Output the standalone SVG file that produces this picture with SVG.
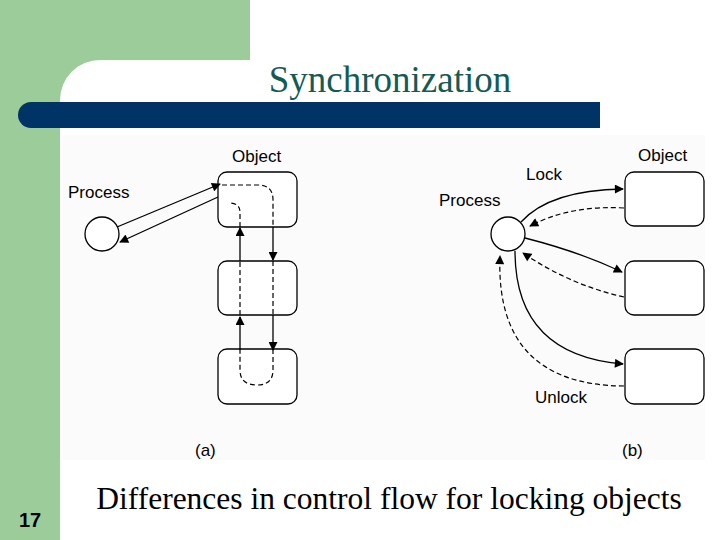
<svg xmlns="http://www.w3.org/2000/svg" width="720" height="540" viewBox="0 0 720 540">
<defs>
<marker id="ah" viewBox="0 0 10 10" refX="9" refY="5" markerWidth="10" markerHeight="9" markerUnits="userSpaceOnUse" orient="auto"><path d="M0,0 L10,5 L0,10 z" fill="#000"/></marker>
<style>
.s{fill:none;stroke:#000;stroke-width:1.3}
.d{fill:none;stroke:#000;stroke-width:1.2;stroke-dasharray:5,3}
.a{marker-end:url(#ah)}
.box{fill:#fff;stroke:#000;stroke-width:1.3}
.t{font-family:"Liberation Sans",Arial,sans-serif;font-size:17px;fill:#000}
</style>
</defs>
<rect width="720" height="540" fill="#fff"/>
<rect x="0" y="0" width="60" height="540" fill="#9dcc9b"/>
<rect x="0" y="0" width="250" height="60" fill="#9dcc9b"/>
<path d="M60,60 H100 A40,40 0 0 0 60,100 Z" fill="#9dcc9b"/>
<path d="M31,102 H600 V128 H31 A13,13 0 0 1 31,102 Z" fill="#003466"/>
<rect x="62" y="135" width="643" height="325" fill="#fbfbfb"/>
<text x="390" y="92" text-anchor="middle" font-family="Liberation Serif,serif" font-size="37" fill="#145a55">Synchronization</text>
<text x="389" y="509" text-anchor="middle" font-family="Liberation Serif,serif" font-size="31.5" fill="#000">Differences in control flow for locking objects</text>
<text x="30" y="527" text-anchor="middle" font-family="Liberation Sans,Arial,sans-serif" font-size="20" font-weight="bold" fill="#000">17</text>
<g id="a-process"><circle cx="102" cy="234" r="17" class="box"/><text class="t" x="68" y="198">Process</text></g>
<g id="a-obj1"><rect x="218" y="172" width="79" height="55" rx="9" class="box"/><text class="t" x="232" y="162">Object</text></g>
<g id="a-obj2"><rect x="218" y="261" width="79" height="54" rx="9" class="box"/></g>
<g id="a-obj3"><rect x="218" y="349" width="79" height="55" rx="9" class="box"/></g>
<g id="b-process"><circle cx="508" cy="234" r="17" class="box"/><text class="t" x="439" y="206">Process</text></g>
<g id="b-obj1"><rect x="625" y="172" width="79" height="54" rx="9" class="box"/><text class="t" x="638" y="161">Object</text></g>
<g id="b-obj2"><rect x="625" y="261" width="79" height="54" rx="9" class="box"/></g>
<g id="b-obj3"><rect x="625" y="349" width="79" height="55" rx="9" class="box"/></g>
<text class="t" x="526" y="180">Lock</text>
<text class="t" x="535" y="403">Unlock</text>
<text class="t" x="195" y="456">(a)</text>
<text class="t" x="622" y="456">(b)</text>
<g id="connectors">
<path class="s a" d="M117,227 L220,184"/>
<path class="s a" d="M218,197 L120,242"/>
<path class="d" d="M222,185 H258 Q273,185 273,200 V227"/>
<path class="s a" d="M273,227 V260"/>
<path class="d" d="M273,261 V315"/>
<path class="s a" d="M273,315 V350"/>
<path class="d" d="M273,349 V370 Q273,385 257,385 Q240,385 240,370 V349"/>
<path class="s a" d="M240,350 V317"/>
<path class="d" d="M240,315 V261"/>
<path class="s a" d="M240,261 V228"/>
<path class="d" d="M240,227 V212 Q240,203 229,203"/>
<path class="s a" d="M521,222 Q550,190 623,189"/>
<path class="d a" d="M624,208 Q570,205 530,226"/>
<path class="s a" d="M525,238 Q580,252 622,272"/>
<path class="d a" d="M624,297 Q570,285 523,253"/>
<path class="s a" d="M515,251 Q515,355 623,364"/>
<path class="d a" d="M624,386 Q495,385 500,256"/>
</g>
</svg>
